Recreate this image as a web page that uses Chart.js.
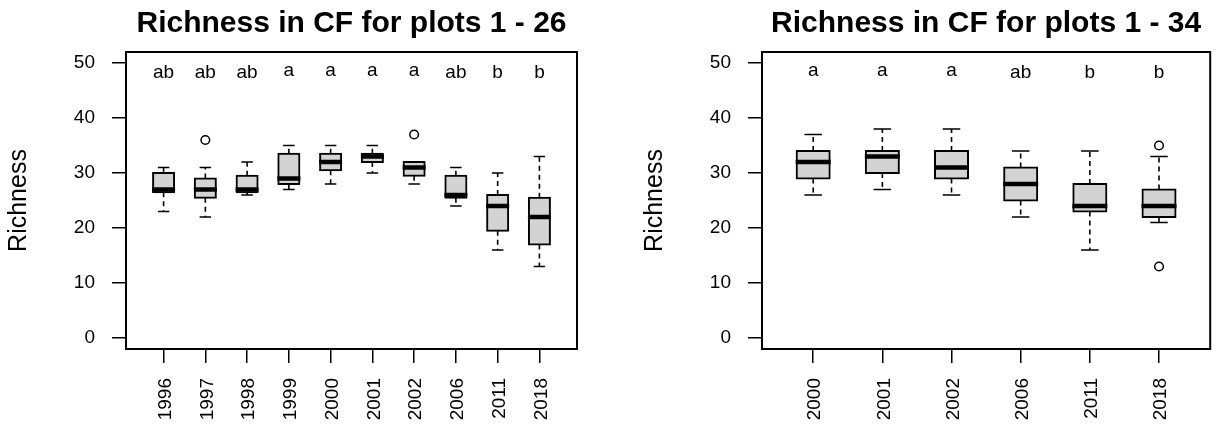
<!DOCTYPE html>
<html><head><meta charset="utf-8">
<script src="https://cdn.jsdelivr.net/npm/chart.js@4/dist/chart.umd.min.js"></script>
<style>
html,body{margin:0;padding:0;background:#fff;}
#wrap{position:relative;width:1216px;height:428px;overflow:hidden;}
.panel{position:absolute;top:0;height:428px;width:608px;}
</style></head><body>
<div id="wrap">
<div class="panel" style="left:0"><canvas id="c1"></canvas></div>
<div class="panel" style="left:608px"><canvas id="c2"></canvas></div>
</div>
<script>
// ---------- Panel 1 data ----------
const categories1 = ['1996','1997','1998','1999','2000','2001','2002','2006','2011','2018'];
const min1    = [23, 22, 26,   27,   28,   30,   28,   24,   16,   13];
const q1_1    = [26.5,25.5,26.5,28,  30.5, 32,   29.5, 25.5, 19.5, 17];
const median1 = [27, 27, 27,   29,   32,   33,   31,   26,   24,   22];
const q3_1    = [30, 29, 29.5, 33.5, 33.5, 33.5, 32,   29.5, 26,   25.5];
const max1    = [31, 31, 32,   35,   35,   35,   32,   31,   30,   33];
const outliers1 = [['1997', 36], ['2002', 37]];
const letters1 = ['ab','ab','ab','a','a','a','a','ab','b','b'];
const title1 = 'Richness in CF for plots 1 - 26';

// ---------- Panel 2 data ----------
const categories2 = ['2000','2001','2002','2006','2011','2018'];
const min2    = [26, 27, 26, 22, 16, 21];
const q1_2    = [29, 30, 29, 25, 23, 22];
const median2 = [32, 33, 31, 28, 24, 24];
const q3_2    = [34, 34, 34, 31, 28, 27];
const max2    = [37, 38, 38, 34, 34, 33];
const outliers2 = [['2018', 35], ['2018', 13]];
const letters2 = ['a','a','a','ab','b','b'];
const title2 = 'Richness in CF for plots 1 - 34';

// ---------- shared ----------
const yTicks = [0, 10, 20, 30, 40, 50];
const yMin = -2, yMax = 52;
const yLabel = 'Richness';
const letterLevel = 48.5;

const FONT = "'Liberation Sans', Arial, sans-serif";

const boxExtras = {
  id: 'boxExtras',
  beforeDatasetsDraw(chart, args, o) {
    const {ctx, scales: {x, y}} = chart;
    ctx.save();
    ctx.strokeStyle = '#000';
    ctx.lineWidth = 1.6;
    o.cats.forEach((c, i) => {
      const px = x.getPixelForValue(i + 1);
      const pMin = y.getPixelForValue(o.mins[i]);
      const pQ1 = y.getPixelForValue(o.q1[i]);
      const pQ3 = y.getPixelForValue(o.q3[i]);
      const pMax = y.getPixelForValue(o.maxs[i]);
      ctx.setLineDash([5, 4]);
      ctx.beginPath();
      ctx.moveTo(px, pQ3); ctx.lineTo(px, pMax);
      ctx.moveTo(px, pQ1); ctx.lineTo(px, pMin);
      ctx.stroke();
      ctx.setLineDash([]);
      const hw = o.capW / 2;
      ctx.beginPath();
      ctx.moveTo(px - hw, pMax); ctx.lineTo(px + hw, pMax);
      ctx.moveTo(px - hw, pMin); ctx.lineTo(px + hw, pMin);
      ctx.stroke();
    });
    ctx.restore();
  },
  afterDatasetsDraw(chart, args, o) {
    const {ctx, chartArea, scales: {x, y}} = chart;
    ctx.save();
    ctx.strokeStyle = '#000';
    ctx.lineWidth = 4.5;
    ctx.lineCap = 'butt';
    o.cats.forEach((c, i) => {
      const px = x.getPixelForValue(i + 1);
      const pm = y.getPixelForValue(o.med[i]);
      ctx.beginPath();
      ctx.moveTo(px - o.boxW / 2, pm); ctx.lineTo(px + o.boxW / 2, pm);
      ctx.stroke();
    });
    // significance letters
    ctx.fillStyle = '#000';
    ctx.font = '19px ' + FONT;
    ctx.textAlign = 'center';
    ctx.textBaseline = 'alphabetic';
    const yc = y.getPixelForValue(letterLevel);
    o.letters.forEach((s, i) => {
      const m = ctx.measureText(s);
      const base = yc + (m.actualBoundingBoxAscent - m.actualBoundingBoxDescent) / 2;
      ctx.fillText(s, x.getPixelForValue(i + 1), base);
    });
    // plot box
    ctx.lineWidth = 2;
    ctx.strokeRect(chartArea.left, chartArea.top, chartArea.right - chartArea.left, chartArea.bottom - chartArea.top);
    // title
    ctx.font = 'bold 30px ' + FONT;
    ctx.textAlign = 'center';
    ctx.fillText(o.title, (chartArea.left + chartArea.right) / 2, 32);
    ctx.restore();
  }
};

function makeChart(id, cats, mins, q1, med, q3, maxs, outs, letters, title, padL, padR, boxW) {
  const n = cats.length;
  const boxData = cats.map((c, i) => ({x: i + 1, y: [q1[i], q3[i]]}));
  const outData = outs.map(([c, v]) => ({x: cats.indexOf(c) + 1, y: v}));
  return new Chart(document.getElementById(id), {
    type: 'bar',
    data: {
      datasets: [
        {
          type: 'bar', data: boxData,
          backgroundColor: '#d3d3d3', borderColor: '#000', borderWidth: 2,
          borderSkipped: false, barThickness: boxW - 2, inflateAmount: 1
        },
        {
          type: 'scatter', data: outData,
          pointRadius: 4.3, pointBorderWidth: 1.5, pointBorderColor: '#000',
          pointBackgroundColor: 'rgba(0,0,0,0)', showLine: false
        }
      ]
    },
    options: {
      responsive: true, maintainAspectRatio: false, animation: false,
      devicePixelRatio: 1,
      layout: {padding: {top: 52, left: padL, right: padR, bottom: 0}},
      plugins: {
        legend: {display: false}, tooltip: {enabled: false}, title: {display: false},
        boxExtras: {cats, mins, q1, med, q3, maxs, letters, title, boxW, capW: boxW / 2}
      },
      scales: {
        x: {
          type: 'linear', offset: false, min: 0.5 - 0.04 * n, max: n + 0.5 + 0.04 * n,
          afterBuildTicks: s => { s.ticks = cats.map((c, i) => ({value: i + 1})); },
          afterFit: s => { s.height = 79; s.paddingLeft = 0; s.paddingRight = 0; },
          ticks: {
            autoSkip: false, minRotation: 90, maxRotation: 90, padding: 15, labelOffset: 2,
            color: '#000', font: {family: FONT, size: 19},
            callback: v => cats[Math.round(v) - 1]
          },
          grid: {display: true, offset: false, drawOnChartArea: false, drawTicks: true, tickLength: 14, color: '#000', lineWidth: 1.5},
          border: {display: false}
        },
        y: {
          type: 'linear', min: yMin, max: yMax,
          afterBuildTicks: s => { s.ticks = yTicks.map(v => ({value: v})); },
          afterFit: s => { s.width = 126; s.paddingTop = 0; s.paddingBottom = 0; },
          ticks: {padding: 17, color: '#000', font: {family: FONT, size: 19}},
          grid: {display: true, drawOnChartArea: false, drawTicks: true, tickLength: 14, color: '#000', lineWidth: 1.5},
          border: {display: false},
          title: {display: true, text: yLabel, color: '#000', font: {family: FONT, size: 25}, padding: {top: 4, bottom: 0}}
        }
      }
    },
    plugins: [boxExtras]
  });
}

makeChart('c1', categories1, min1, q1_1, median1, q3_1, max1, outliers1, letters1, title1, 0, 31, 23);
makeChart('c2', categories2, min2, q1_2, median2, q3_2, max2, outliers2, letters2, title2, 28, 4, 35);
</script>
</body></html>
